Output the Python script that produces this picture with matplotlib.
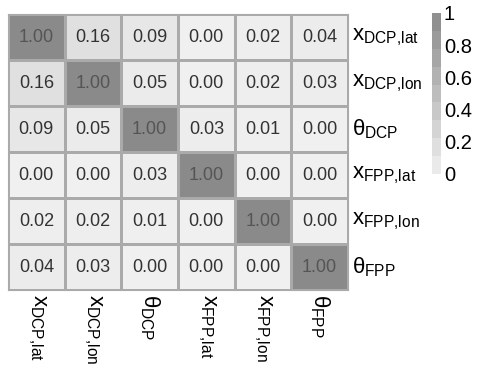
import matplotlib
matplotlib.use('Agg')
import matplotlib.pyplot as plt
from matplotlib.colors import LinearSegmentedColormap, Normalize
import matplotlib.cm as cm
import numpy as np

plt.rcParams['font.family'] = ['Liberation Sans', 'DejaVu Sans']
plt.rcParams['mathtext.fontset'] = 'custom'
plt.rcParams['mathtext.rm'] = 'Liberation Sans'
plt.rcParams['mathtext.it'] = 'Liberation Sans'

labels = [r'$\mathrm{x}_{\mathrm{DCP{,}lat}}$', r'$\mathrm{x}_{\mathrm{DCP{,}lon}}$', r'$\theta_{\mathrm{DCP}}$',
          r'$\mathrm{x}_{\mathrm{FPP{,}lat}}$', r'$\mathrm{x}_{\mathrm{FPP{,}lon}}$', r'$\theta_{\mathrm{FPP}}$']

corr = [
    [1.00, 0.16, 0.09, 0.00, 0.02, 0.04],
    [0.16, 1.00, 0.05, 0.00, 0.02, 0.03],
    [0.09, 0.05, 1.00, 0.03, 0.01, 0.00],
    [0.00, 0.00, 0.03, 1.00, 0.00, 0.00],
    [0.02, 0.02, 0.01, 0.00, 1.00, 0.00],
    [0.04, 0.03, 0.00, 0.00, 0.00, 1.00],
]
cbar_ticks = [0, 0.2, 0.4, 0.6, 0.8, 1]
cbar_ticklabels = ['0', '0.2', '0.4', '0.6', '0.8', '1']

data = np.array(corr)
n = len(labels)
cmap = LinearSegmentedColormap.from_list('grays', ['#f0f0f0', '#8a8a8a'])
norm = Normalize(0, 1)

W, H = 480, 371
fig = plt.figure(figsize=(W / 100, H / 100), dpi=100)
ax = fig.add_axes([8 / W, (H - 290) / H, 340 / W, 276 / H])
ax.pcolormesh(data, cmap=cmap, norm=norm, edgecolors='#aaaaaa', linewidth=1)
ax.set_xlim(0, n)
ax.set_ylim(n, 0)
for i in range(n):
    for j in range(n):
        v = data[i, j]
        ax.text(j + 0.5, i + 0.5, '%.2f' % v, ha='center', va='center',
                fontsize=13, color='#555555' if v > 0.5 else '#333333')
for s in ax.spines.values():
    s.set_color('#aaaaaa')
ax.set_xticks(np.arange(n) + 0.5)
ax.set_xticklabels(labels, rotation=270, fontsize=16, va='top', ha='center')
ax.yaxis.tick_right()
ax.set_yticks(np.arange(n) + 0.5)
ax.set_yticklabels(labels, fontsize=16, ha='left', va='center')
ax.tick_params(length=0, pad=3)

cax = fig.add_axes([432 / W, (H - 174) / H, 9 / W, 161 / H])
sm = cm.ScalarMappable(norm=norm, cmap=cmap)
bounds = np.linspace(0, 1, 10)
cb = fig.colorbar(sm, cax=cax, boundaries=bounds, values=(bounds[:-1] + bounds[1:]) / 2)
cb.outline.set_visible(False)
cb.set_ticks(cbar_ticks)
cb.set_ticklabels(cbar_ticklabels)
cax.tick_params(length=0, labelsize=14.5, pad=2)

fig.savefig('out.png', dpi=100)
